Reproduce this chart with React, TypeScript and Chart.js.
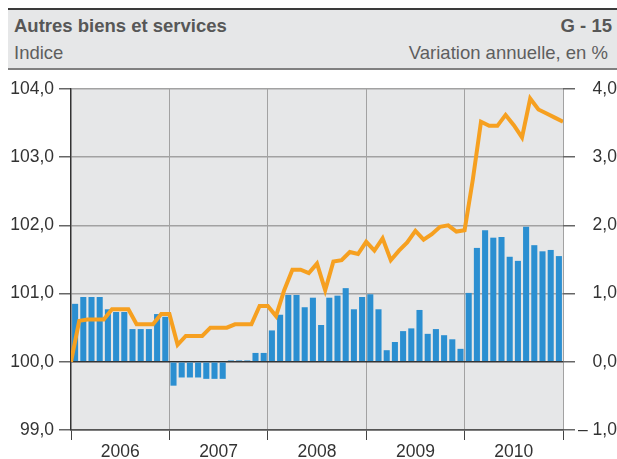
import React, { useEffect, useRef } from 'react';
import { Chart, registerables } from 'chart.js';

Chart.register(...registerables);

// Year labels (x axis)
const years = ['2006', '2007', '2008', '2009', '2010'];

// Annual variation, in % (bars, right axis) – monthly, Jan 2006 … Dec 2010
const change2006 = [0.85, 0.95, 0.95, 0.95, 0.77, 0.73, 0.73, 0.48, 0.48, 0.48, 0.70, 0.66];
const change2007 = [-0.35, -0.23, -0.23, -0.23, -0.25, -0.25, -0.25, 0.02, 0.02, 0.02, 0.13, 0.13];
const change2008 = [0.46, 0.69, 0.98, 0.98, 0.80, 0.94, 0.54, 0.94, 0.97, 1.08, 0.77, 0.95];
const change2009 = [0.99, 0.77, 0.17, 0.29, 0.45, 0.49, 0.76, 0.41, 0.48, 0.39, 0.33, 0.19];
const change2010 = [1.01, 1.67, 1.93, 1.82, 1.83, 1.54, 1.48, 1.98, 1.71, 1.62, 1.64, 1.55];

// Index (line, left axis) – base Dec 2005 = 100, then month ends
const indexBase = [100.0];
const index2006 = [100.60, 100.62, 100.62, 100.62, 100.77, 100.77, 100.77, 100.55, 100.55, 100.55, 100.70, 100.70];
const index2007 = [100.25, 100.38, 100.38, 100.38, 100.50, 100.50, 100.50, 100.55, 100.55, 100.55, 100.82, 100.82];
const index2008 = [100.67, 101.05, 101.35, 101.35, 101.30, 101.44, 101.05, 101.47, 101.49, 101.61, 101.58, 101.76];
const index2009 = [101.63, 101.81, 101.49, 101.63, 101.75, 101.92, 101.79, 101.87, 101.98, 102.00, 101.91, 101.93];
const index2010 = [102.67, 103.52, 103.46, 103.46, 103.62, 103.47, 103.29, 103.86, 103.70, 103.64, 103.58, 103.52];

const annualChange = [...change2006, ...change2007, ...change2008, ...change2009, ...change2010];
const indexValues = [...indexBase, ...index2006, ...index2007, ...index2008, ...index2009, ...index2010];

const FONT = "'Liberation Sans', Arial, Helvetica, sans-serif";
const fmt = (v: number) => v.toFixed(1).replace('.', ',');

const CANVAS_W = 640;
const CANVAS_H = 384;
const CANVAS_TOP = 75;

export default function App() {
  const ref = useRef<HTMLCanvasElement>(null);

  useEffect(() => {
    const canvas = ref.current!;
    const bgPlugin = {
      id: 'plotBg',
      beforeDraw(chart: any) {
        const { ctx, chartArea: a } = chart;
        ctx.save();
        ctx.fillStyle = '#e6e7e8';
        ctx.fillRect(a.left, a.top, a.right - a.left, a.bottom - a.top);
        ctx.restore();
      },
    };

    const tickFont = { family: FONT, size: 17.5 };

    const chart = new Chart(canvas, {
      type: 'bar',
      data: {
        datasets: [
          {
            type: 'line',
            label: 'Indice',
            data: indexValues.map((v, i) => ({ x: i, y: v })),
            yAxisID: 'y',
            borderColor: '#f6a020',
            borderWidth: 4,
            pointRadius: 0,
            tension: 0,
            order: 0,
          } as any,
          {
            type: 'bar',
            label: 'Variation annuelle, en %',
            data: annualChange.map((v, i) => ({ x: i + 0.5, y: v })),
            yAxisID: 'y1',
            backgroundColor: '#2b8fd1',
            barPercentage: 1,
            categoryPercentage: 0.74,
            order: 1,
          } as any,
        ],
      },
      options: {
        responsive: false,
        animation: false,
        devicePixelRatio: 1,
        layout: { padding: { top: 14, left: 0, right: 0, bottom: 0 } },
        plugins: { legend: { display: false }, tooltip: { enabled: false } },
        scales: {
          x: {
            type: 'linear',
            min: 0,
            max: 60,
            offset: false,
            grid: {
              offset: false,
              lineWidth: 1,
              tickLength: 10,
              color: (c: any) => (c.tick && c.tick.value % 12 === 0 && c.tick.value !== 0 ? '#a2a2a2' : 'rgba(0,0,0,0)'),
              tickColor: (c: any) => (c.tick && c.tick.value % 12 === 0 ? '#444' : 'rgba(0,0,0,0)'),
            },
            border: { color: '#555', width: 1.5 },
            ticks: {
              stepSize: 6,
              autoSkip: false,
              maxRotation: 0,
              minRotation: 0,
              padding: 2,
              color: '#333',
              font: tickFont,
              callback: (v: any) => {
                const n = Number(v);
                return n % 12 === 6 ? years[(n - 6) / 12] : '';
              },
            },
            afterFit: (s: any) => {
              s.height = 29;
              s.paddingLeft = 0;
              s.paddingRight = 0;
            },
          } as any,
          y: {
            type: 'linear',
            position: 'left',
            min: 99,
            max: 104,
            grid: {
              lineWidth: 1.5,
              tickLength: 12,
              color: (c: any) => {
                const v = c.tick ? c.tick.value : 0;
                if (v === 100) return '#333';
                if (v === 99) return '#555';
                return '#a2a2a2';
              },
              tickColor: '#666',
            },
            border: { color: '#333', width: 1.5 },
            ticks: {
              stepSize: 1,
              padding: 5,
              color: '#333',
              font: tickFont,
              callback: (v: any) => fmt(Number(v)),
            },
            afterFit: (s: any) => {
              s.width = 71;
              s.paddingTop = 0;
              s.paddingBottom = 0;
            },
          } as any,
          y1: {
            type: 'linear',
            position: 'right',
            min: -1,
            max: 4,
            grid: {
              drawOnChartArea: false,
              drawTicks: true,
              tickLength: 12,
              tickColor: '#666',
              lineWidth: 1.5,
            },
            border: { display: false },
            ticks: {
              stepSize: 1,
              padding: 3,
              color: '#333',
              font: tickFont,
              callback: (v: any) => {
                const n = Number(v);
                return n < 0 ? '\u2013 ' + fmt(-n) : '   ' + fmt(n);
              },
            },
            afterFit: (s: any) => {
              s.width = CANVAS_W - 563;
              s.paddingTop = 0;
              s.paddingBottom = 0;
            },
          } as any,
        },
      },
      plugins: [bgPlugin],
    } as any);

    return () => chart.destroy();
  }, []);

  const textBase: React.CSSProperties = {
    position: 'absolute',
    fontFamily: FONT,
    fontSize: 18.5,
    lineHeight: '18.5px',
    whiteSpace: 'nowrap',
  };

  return (
    <div
      style={{
        position: 'fixed',
        left: 0,
        top: 0,
        width: 617,
        height: 459,
        overflow: 'hidden',
        background: '#fff',
      }}
    >
      <div style={{ position: 'absolute', left: 8, top: 8, width: 609, height: 2, background: '#3a3a3a' }} />
      <div style={{ position: 'absolute', left: 8, top: 10, width: 609, height: 58, background: '#e6e7e8' }} />
      <div style={{ position: 'absolute', left: 8, top: 68, width: 609, height: 2, background: '#808080' }} />
      <div style={{ ...textBase, left: 14, top: 16.5, fontWeight: 'bold', color: '#575757' }}>Autres biens et services</div>
      <div style={{ ...textBase, right: 5, top: 16.5, fontWeight: 'bold', color: '#575757' }}>G - 15</div>
      <div style={{ ...textBase, left: 14, top: 43.5, color: '#5e5e5e' }}>Indice</div>
      <div style={{ ...textBase, right: 9, top: 43.5, color: '#5e5e5e' }}>Variation annuelle, en %</div>
      <canvas
        ref={ref}
        width={CANVAS_W}
        height={CANVAS_H}
        style={{ position: 'absolute', left: 0, top: CANVAS_TOP, width: CANVAS_W, height: CANVAS_H }}
      />
    </div>
  );
}
